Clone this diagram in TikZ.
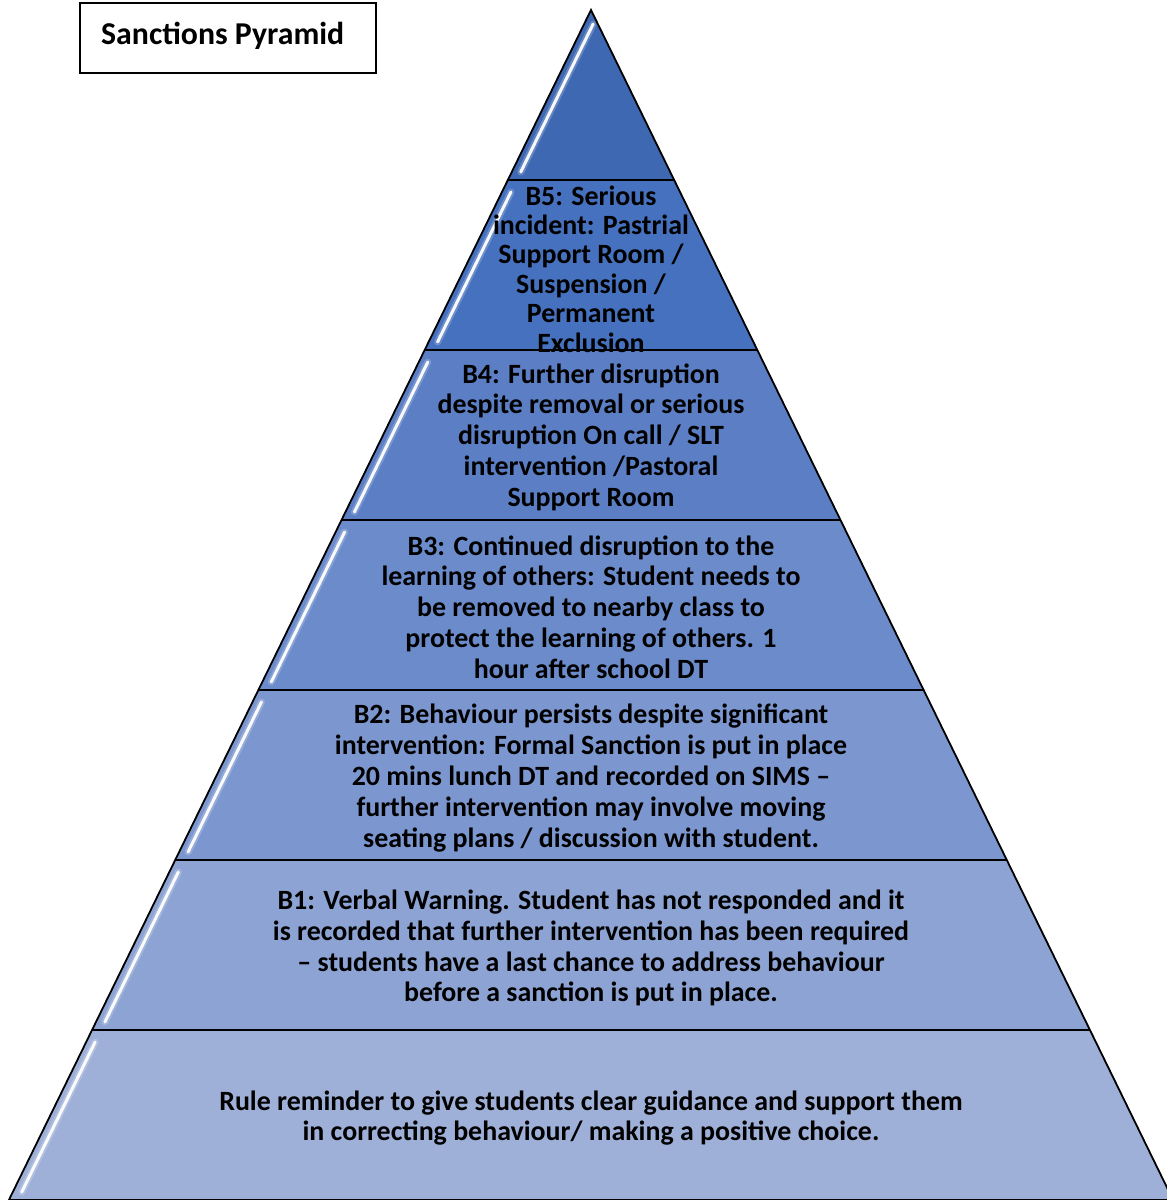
\documentclass[tikz,border=0pt]{standalone}
\usepackage{fontspec}
\setmainfont{Carlito}
\definecolor{c0}{HTML}{3F68B2}
\definecolor{c1}{HTML}{4671BE}
\definecolor{c2}{HTML}{5B7EC5}
\definecolor{c3}{HTML}{6C8BCB}
\definecolor{c4}{HTML}{7C97CF}
\definecolor{c5}{HTML}{8DA3D3}
\definecolor{c6}{HTML}{9EAFD8}
\tikzset{
  seg/.style={draw=black, line width=1.8pt, line join=miter},
  hl/.style={white, line cap=round},
  lvltext/.style={align=center, font=\bfseries\fontsize{27.9}{30.8}\selectfont, inner sep=0pt},
  titlebox/.style={draw=black, line width=1.3pt, minimum width=296pt, minimum height=70pt, inner sep=0pt}
}
\begin{document}
\begin{tikzpicture}[x=1pt,y=-1pt]
\useasboundingbox (0,0) rectangle (1167,1200);
\fill[white] (0,0) rectangle (1167,1200);
\begin{scope}
\clip (0,0) rectangle (1167,1200);
% top triangle
\fill[c0] (591,10) -- (674.2,180) -- (507.8,180) -- cycle;
\foreach \ya/\yb/\col in {180/350/c1,350/520/c2,520/690/c3,690/860/c4,860/1030/c5,1030/1200/c6}{
  \pgfmathsetmacro\xa{591-0.4892*(\ya-10)}
  \pgfmathsetmacro\xb{591-0.4892*(\yb-10)}
  \pgfmathsetmacro\xc{591+0.4892*(\ya-10)}
  \pgfmathsetmacro\xd{591+0.4892*(\yb-10)}
  \fill[\col] (\xa,\ya) -- (\xc,\ya) -- (\xd,\yb) -- (\xb,\yb) -- cycle;
}
% glossy highlights along the left edge
\foreach \ya/\yb in {24/172,192/342,362/512,532/682,702/852,872/1022,1042/1192}{
  \pgfmathsetmacro\xa{591-0.4892*(\ya-10)+9}
  \pgfmathsetmacro\xb{591-0.4892*(\yb-10)+9}
  \draw[hl, line width=7pt, opacity=0.2] (\xa,\ya) -- (\xb,\yb);
  \draw[hl, line width=3pt, opacity=0.95] (\xa,\ya) -- (\xb,\yb);
}
% outlines
\draw[seg] (591,10) -- (1173.1,1200) -- (8.9,1200) -- cycle;
\foreach \y in {180,350,520,690,860,1030}{
  \pgfmathsetmacro\xl{591-0.4892*(\y-10)}
  \pgfmathsetmacro\xr{591+0.4892*(\y-10)}
  \draw[seg, line width=1.5pt] (\xl,\y) -- (\xr,\y);
}
\end{scope}
% texts
\node[lvltext, font=\bfseries\fontsize{27.9}{29.4}\selectfont] (b5) at (591,269) {B5: Serious\\incident: Pastrial\\Support Room /\\Suspension /\\Permanent\\Exclusion};
\node[lvltext] (b4) at (591,437) {B4: Further disruption\\despite removal or serious\\disruption On call / SLT\\intervention /Pastoral\\Support Room};
\node[lvltext] (b3) at (591,607) {B3: Continued disruption to the\\learning of others: Student needs to\\be removed to nearby class to\\protect the learning of others. 1\\hour after school DT};
\node[lvltext] (b2) at (591,778) {B2: Behaviour persists despite significant\\intervention: Formal Sanction is put in place\\20 mins lunch DT and recorded on SIMS –\\further intervention may involve moving\\seating plans / discussion with student.};
\node[lvltext] (b1) at (591,948) {B1: Verbal Warning. Student has not responded and it\\is recorded that further intervention has been required\\– students have a last chance to address behaviour\\before a sanction is put in place.};
\node[lvltext] (b0) at (591,1118) {Rule reminder to give students clear guidance and support them\\in correcting behaviour/ making a positive choice.};
% title
\node[titlebox] (title) at (228,38) {};
\node[anchor=west, inner sep=0pt, font=\bfseries\fontsize{31.8}{36}\selectfont] (titletext) at (101,36) {Sanctions Pyramid};
\end{tikzpicture}
\end{document}
